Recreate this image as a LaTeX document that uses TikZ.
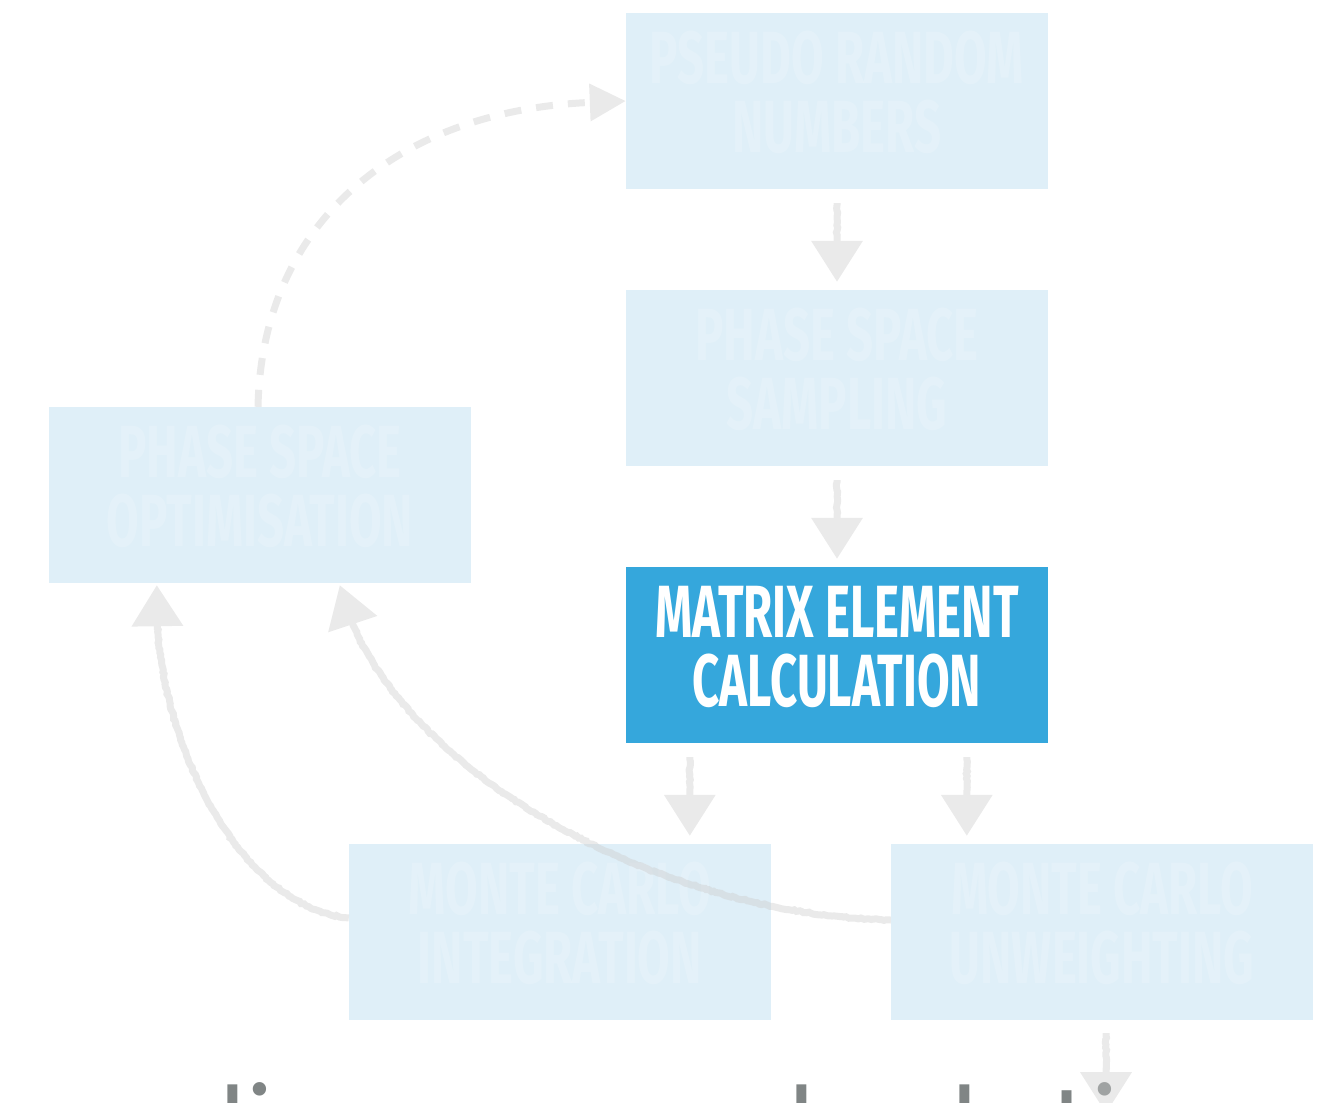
\documentclass[tikz,border=0pt]{standalone}
\usepackage{fontspec}
\newfontfamily\boxfont[FakeStretch=0.64]{Fira Sans}
\newfontfamily\notefont{Poppins}
\usetikzlibrary{arrows.meta,decorations.pathmorphing,calc}
\definecolor{boxpale}{RGB}{223,239,248}
\definecolor{boxblue}{RGB}{53,167,220}
\definecolor{arrowgrey}{RGB}{205,205,205}
\definecolor{notegrey}{RGB}{128,133,133}
\tikzset{
  stage/.style={minimum width=422pt, minimum height=176pt, inner sep=0pt},
  faded/.style={stage, fill=boxpale},
  active/.style={stage, fill=boxblue},
  caption/.style={inner sep=0pt, align=center,
    font=\boxfont\bfseries\fontsize{74}{69}\selectfont},
  fadedtext/.style={caption, text=white, text opacity=0.16},
  activetext/.style={caption, text=white},
  rough/.style={decorate, decoration={random steps, segment length=2.5pt,
    amplitude=0.7pt, pre=lineto, pre length=2pt, post=lineto, post length=44pt}},
  flow/.style={draw=arrowgrey, line width=7pt, rough,
    -{Triangle[width=50pt,length=41pt]}},
  loopback/.style={draw=arrowgrey, line width=7pt, dash pattern=on 17pt off 15pt,
    -{Triangle[width=36pt,length=36pt]}},
}
\begin{document}
\begin{tikzpicture}[x=1pt,y=-1pt]
\useasboundingbox (0,0) rectangle (1336,1103);
\clip (0,0) rectangle (1336,1103);

% stages of the event generation chain
\node[faded]  (prn) at (837,101) {};
\node[faded]  (pss) at (837,378) {};
\node[faded]  (pso) at (260,495) {};
\node[active] (mec) at (837,655) {};
\node[faded]  (mci) at (560,932) {};
\node[faded]  (mcu) at (1102,932) {};

% stage titles, set a little above the box centres
\node[fadedtext]  (prn-t) at ($(prn)+(0,-8.5)$) {PSEUDO RANDOM\\NUMBERS};
\node[fadedtext]  (pss-t) at ($(pss)+(0,-8.5)$) {PHASE SPACE\\SAMPLING};
\node[fadedtext]  (pso-t) at ($(pso)+(0,-8.5)$) {PHASE SPACE\\OPTIMISATION};
\node[activetext] (mec-t) at ($(mec)+(0,-8.5)$) {MATRIX ELEMENT\\CALCULATION};
\node[fadedtext]  (mci-t) at ($(mci)+(0,-8.5)$) {MONTE CARLO\\INTEGRATION};
\node[fadedtext]  (mcu-t) at ($(mcu)+(0,-8.5)$) {MONTE CARLO\\UNWEIGHTING};

% caption line running off the lower edge
\node[anchor=base west, inner sep=0pt, text=notegrey,
  font=\notefont\fontsize{109}{109}\selectfont] (note) at (219,1165)
  {linear\hspace{124pt}calculation};

\coordinate (out) at ($(mcu.south)+(4,93)$);

\begin{scope}[transparency group, opacity=0.42]
  \draw[flow] ($(prn.south)+(0,14)$) -- ($(pss.north)+(0,-8)$);
  \draw[flow] ($(pss.south)+(0,14)$) -- ($(mec.north)+(0,-8)$);
  \draw[flow] ($(mec.south west)+(64,14)$) -- ($(mci.north west)+(341,-8)$);
  \draw[flow] ($(mec.south west)+(341,14)$) -- ($(mcu.north west)+(76,-8)$);
  \draw[flow] ($(mcu.south)+(4,13)$) -- (out);
  % feedback from the integration and unweighting steps
  \draw[flow] ($(mci.west)+(0,-14)$) .. controls (230,905) and (150,720) .. ($(pso.south west)+(108,2)$);
  \draw[flow] ($(mcu.west)+(0,-12)$) .. controls (650,915) and (380,760) .. ($(pso.south west)+(291,2)$);
  \draw[loopback] ($(pso.north)+(-2,0)$) .. controls (262,220) and (400,110) .. (prn.west);
\end{scope}
\end{tikzpicture}
\end{document}
